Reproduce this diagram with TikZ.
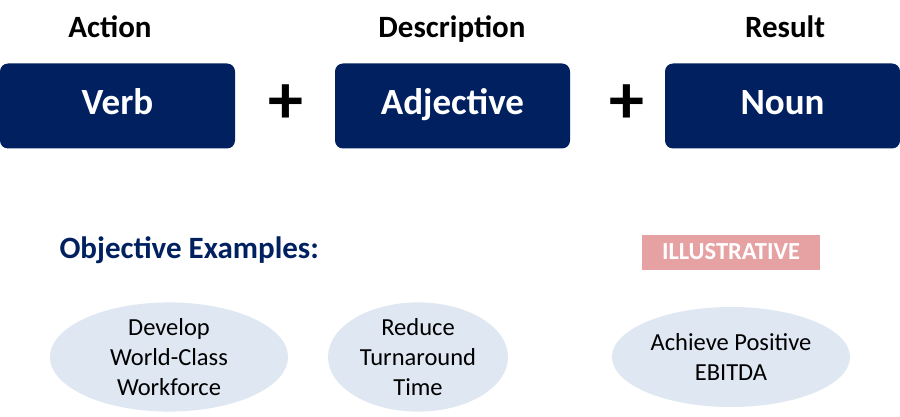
\documentclass[tikz,border=0pt]{standalone}
\usepackage{fontspec}
\setmainfont{Carlito}
\usetikzlibrary{shapes.geometric}
\definecolor{navy}{HTML}{002060}
\definecolor{pinkbox}{HTML}{E6A1A3}
\definecolor{lightblue}{HTML}{DEE7F2}
\begin{document}
\begin{tikzpicture}[x=1pt,y=-1pt,
  mainbox/.style={draw=none,fill=navy,rounded corners=8pt,minimum width=235pt,minimum height=85pt,text=white,text height=26pt,text depth=8pt,font=\fontsize{37}{44}\selectfont\bfseries},
  header/.style={anchor=base,font=\fontsize{31}{36}\selectfont\bfseries,text=black},
  plus/.style={font=\fontsize{70}{70}\selectfont\bfseries},
  example/.style={ellipse,fill=lightblue,draw=none,align=center,font=\fontsize{24.5}{30}\selectfont,inner sep=0pt}]
\useasboundingbox (0,0) rectangle (900,417);
\node[mainbox] (verb) at (117.5,106) {Verb};
\node[mainbox] (adj) at (452.5,106) {Adjective};
\node[mainbox] (noun) at (782.5,106) {Noun};
\node[header] (h1) at (110,38) {Action};
\node[header] (h2) at (452,38) {Description};
\node[header] (h3) at (785,38) {Result};
\node[plus] (p1) at (286,104) {+};
\node[plus] (p2) at (627,104) {+};
\node[anchor=west,text=navy,font=\fontsize{31}{36}\selectfont\bfseries] (obj) at (56,250) {Objective Examples:};
\node[fill=pinkbox,text=white,minimum width=178pt,minimum height=35pt,font=\fontsize{24.5}{29}\selectfont\bfseries] (ill) at (731,252) {ILLUSTRATIVE};
\node[example,minimum width=238pt,minimum height=100pt] (e1) at (169,357) {Develop\\World-Class\\Workforce};
\node[example,minimum width=180pt,minimum height=100pt] (e2) at (418,357) {Reduce\\Turnaround\\Time};
\node[example,minimum width=238pt,minimum height=100pt] (e3) at (731,357) {Achieve Positive\\EBITDA};
\end{tikzpicture}
\end{document}
